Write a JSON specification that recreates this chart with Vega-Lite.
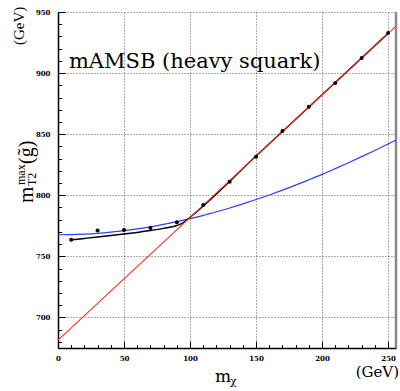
{
  "$schema": "https://vega.github.io/schema/vega-lite/v6.json",
  "width": 338,
  "height": 336,
  "autosize": {"type": "none"},
  "padding": {"left": 58, "top": 12, "right": 4, "bottom": 43},
  "background": "white",
  "config": {"view": {"stroke": null}},
  "datasets": {
    "points": [
      {"mx": 10, "m": 763.5}, {"mx": 30, "m": 771.1}, {"mx": 50, "m": 771.6},
      {"mx": 70, "m": 773.2}, {"mx": 90, "m": 778.0}, {"mx": 110, "m": 792.1},
      {"mx": 130, "m": 811.1}, {"mx": 150, "m": 831.6}, {"mx": 170, "m": 852.6},
      {"mx": 190, "m": 872.5}, {"mx": 210, "m": 891.9}, {"mx": 230, "m": 912.4},
      {"mx": 250, "m": 932.8}
    ],
    "blue": [
      {"mx": 0, "m": 767.7}, {"mx": 10, "m": 767.8}, {"mx": 20, "m": 768.2},
      {"mx": 30, "m": 768.85}, {"mx": 40, "m": 769.8}, {"mx": 50, "m": 771.0},
      {"mx": 60, "m": 772.5}, {"mx": 70, "m": 774.2}, {"mx": 80, "m": 776.2},
      {"mx": 90, "m": 778.4}, {"mx": 100, "m": 780.9}, {"mx": 110, "m": 783.55},
      {"mx": 120, "m": 786.5}, {"mx": 130, "m": 789.6}, {"mx": 140, "m": 792.95},
      {"mx": 150, "m": 796.5}, {"mx": 160, "m": 800.25}, {"mx": 170, "m": 804.2},
      {"mx": 180, "m": 808.3}, {"mx": 190, "m": 812.65}, {"mx": 200, "m": 817.1},
      {"mx": 210, "m": 821.8}, {"mx": 220, "m": 826.6}, {"mx": 230, "m": 831.6},
      {"mx": 240, "m": 836.7}, {"mx": 250, "m": 842.0}, {"mx": 256, "m": 845.2}
    ],
    "black": [
      {"mx": 10, "m": 763.5}, {"mx": 20, "m": 764.7}, {"mx": 30, "m": 765.9},
      {"mx": 40, "m": 767.1}, {"mx": 50, "m": 768.3}, {"mx": 60, "m": 769.6},
      {"mx": 70, "m": 771.1}, {"mx": 80, "m": 772.9}, {"mx": 90, "m": 775.3},
      {"mx": 94, "m": 777.0}, {"mx": 96, "m": 778.4}, {"mx": 98, "m": 780.3},
      {"mx": 100, "m": 782.0}, {"mx": 150, "m": 832.1}, {"mx": 200, "m": 882.3},
      {"mx": 250, "m": 932.5}
    ],
    "red": [
      {"mx": 0, "m": 681.5}, {"mx": 256, "m": 938.5}
    ],
    "one": [{}]
  },
  "resolve": {"axis": {"x": "independent", "y": "independent"}},
  "layer": [
    {
      "data": {"name": "one"},
      "mark": {"type": "rule", "color": "#8a8a8a", "strokeWidth": 2.5},
      "encoding": {
        "x": {"datum": 256, "type": "quantitative", "scale": {"domain": [0, 256], "nice": false, "zero": false}, "axis": null}
      }
    },
    {
      "data": {"name": "blue"},
      "mark": {"type": "line", "color": "#2a40ff", "strokeWidth": 1.2, "interpolate": "monotone"},
      "encoding": {
        "x": {"field": "mx", "type": "quantitative", "scale": {"domain": [0, 256], "nice": false, "zero": false},
          "axis": {"orient": "bottom", "values": [10,20,30,40,60,70,80,90,110,120,130,140,160,170,180,190,210,220,230,240],
            "title": null, "labels": false, "domain": false, "grid": false, "tickSize": -3.5, "tickColor": "black", "tickWidth": 1}},
        "y": {"field": "m", "type": "quantitative", "scale": {"domain": [675, 950], "nice": false, "zero": false},
          "axis": {"orient": "left", "values": [680,690,710,720,730,740,760,770,780,790,810,820,830,840,860,870,880,890,910,920,930,940],
            "title": null, "labels": false, "domain": false, "grid": false, "tickSize": -3.5, "tickColor": "black", "tickWidth": 1}}
      }
    },
    {
      "data": {"name": "black"},
      "mark": {"type": "line", "color": "black", "strokeWidth": 1.5, "interpolate": "monotone"},
      "encoding": {
        "x": {"field": "mx", "type": "quantitative", "axis": null},
        "y": {"field": "m", "type": "quantitative", "axis": null}
      }
    },
    {
      "data": {"name": "red"},
      "mark": {"type": "line", "color": "#ff3010", "strokeWidth": 1.1},
      "encoding": {
        "x": {"field": "mx", "type": "quantitative", "axis": null},
        "y": {"field": "m", "type": "quantitative", "axis": null}
      }
    },
    {
      "data": {"name": "points"},
      "mark": {"type": "circle", "color": "black", "size": 16, "opacity": 1},
      "encoding": {
        "x": {"field": "mx", "type": "quantitative",
          "axis": {"orient": "bottom", "values": [0, 50, 100, 150, 200, 250], "title": null,
            "tickSize": -7, "tickColor": "black", "tickWidth": 1, "domainColor": "black", "domainWidth": 1.5,
            "labelFont": "DejaVu Serif", "labelFontWeight": "bold", "labelFontSize": 7, "labelColor": "black",
            "labelPadding": 13, "labelFlush": false, "labelOverlap": false,
            "grid": true, "gridColor": "#333333", "gridDash": [1, 2], "gridWidth": 0.8}},
        "y": {"field": "m", "type": "quantitative",
          "axis": {"orient": "left", "values": [700, 750, 800, 850, 900, 950], "title": null,
            "tickSize": -7, "tickColor": "black", "tickWidth": 1, "domainColor": "black", "domainWidth": 1.5,
            "labelFont": "DejaVu Serif", "labelFontWeight": "bold", "labelFontSize": 7, "labelColor": "black",
            "labelPadding": 15, "labelFlush": false, "labelOverlap": false,
            "grid": true, "gridColor": "#333333", "gridDash": [1, 2], "gridWidth": 0.8}}
      }
    },
    {
      "data": {"name": "one"},
      "mark": {"type": "text", "text": "mAMSB (heavy squark)", "font": "DejaVu Serif", "fontSize": 21, "align": "left", "baseline": "alphabetic", "color": "black"},
      "encoding": {"x": {"datum": 8.3, "type": "quantitative", "axis": null}, "y": {"datum": 904.2, "type": "quantitative", "axis": null}}
    },
    {
      "data": {"name": "one"},
      "mark": {"type": "text", "text": "m", "font": "DejaVu Serif", "fontSize": 17, "align": "left", "baseline": "alphabetic", "color": "black"},
      "encoding": {"x": {"datum": 118.9, "type": "quantitative", "axis": null}, "y": {"datum": 647.2, "type": "quantitative", "axis": null}}
    },
    {
      "data": {"name": "one"},
      "mark": {"type": "text", "text": "χ", "font": "DejaVu Serif", "fontSize": 11, "align": "left", "baseline": "alphabetic", "color": "black"},
      "encoding": {"x": {"datum": 130.3, "type": "quantitative", "axis": null}, "y": {"datum": 644.5, "type": "quantitative", "axis": null}}
    },
    {
      "data": {"name": "one"},
      "mark": {"type": "text", "text": "(GeV)", "font": "DejaVu Serif", "fontSize": 15, "align": "right", "baseline": "alphabetic", "color": "black"},
      "encoding": {"x": {"datum": 258.3, "type": "quantitative", "axis": null}, "y": {"datum": 651.3, "type": "quantitative", "axis": null}}
    },
    {
      "data": {"name": "one"},
      "mark": {"type": "text", "text": "(GeV)", "font": "Liberation Serif", "fontSize": 15, "align": "left", "baseline": "alphabetic", "angle": 270, "color": "black"},
      "encoding": {"x": {"datum": -25.8, "type": "quantitative", "axis": null}, "y": {"datum": 923, "type": "quantitative", "axis": null}}
    },
    {
      "data": {"name": "one"},
      "mark": {"type": "text", "text": "m", "font": "Liberation Serif", "fontSize": 21, "align": "left", "baseline": "alphabetic", "angle": 270, "color": "black"},
      "encoding": {"x": {"datum": -18.9, "type": "quantitative", "axis": null}, "y": {"datum": 793.7, "type": "quantitative", "axis": null}}
    },
    {
      "data": {"name": "one"},
      "mark": {"type": "text", "text": "T2", "font": "Liberation Serif", "fontSize": 12, "align": "left", "baseline": "alphabetic", "angle": 270, "color": "black"},
      "encoding": {"x": {"datum": -16.7, "type": "quantitative", "axis": null}, "y": {"datum": 807.6, "type": "quantitative", "axis": null}}
    },
    {
      "data": {"name": "one"},
      "mark": {"type": "text", "text": "max", "font": "Liberation Serif", "fontSize": 12, "align": "left", "baseline": "alphabetic", "angle": 270, "color": "black"},
      "encoding": {"x": {"datum": -25.0, "type": "quantitative", "axis": null}, "y": {"datum": 808.4, "type": "quantitative", "axis": null}}
    },
    {
      "data": {"name": "one"},
      "mark": {"type": "text", "text": "(g̃)", "font": "Liberation Serif", "fontSize": 20, "align": "left", "baseline": "alphabetic", "angle": 270, "color": "black"},
      "encoding": {"x": {"datum": -18.9, "type": "quantitative", "axis": null}, "y": {"datum": 825.6, "type": "quantitative", "axis": null}}
    }
  ]
}
